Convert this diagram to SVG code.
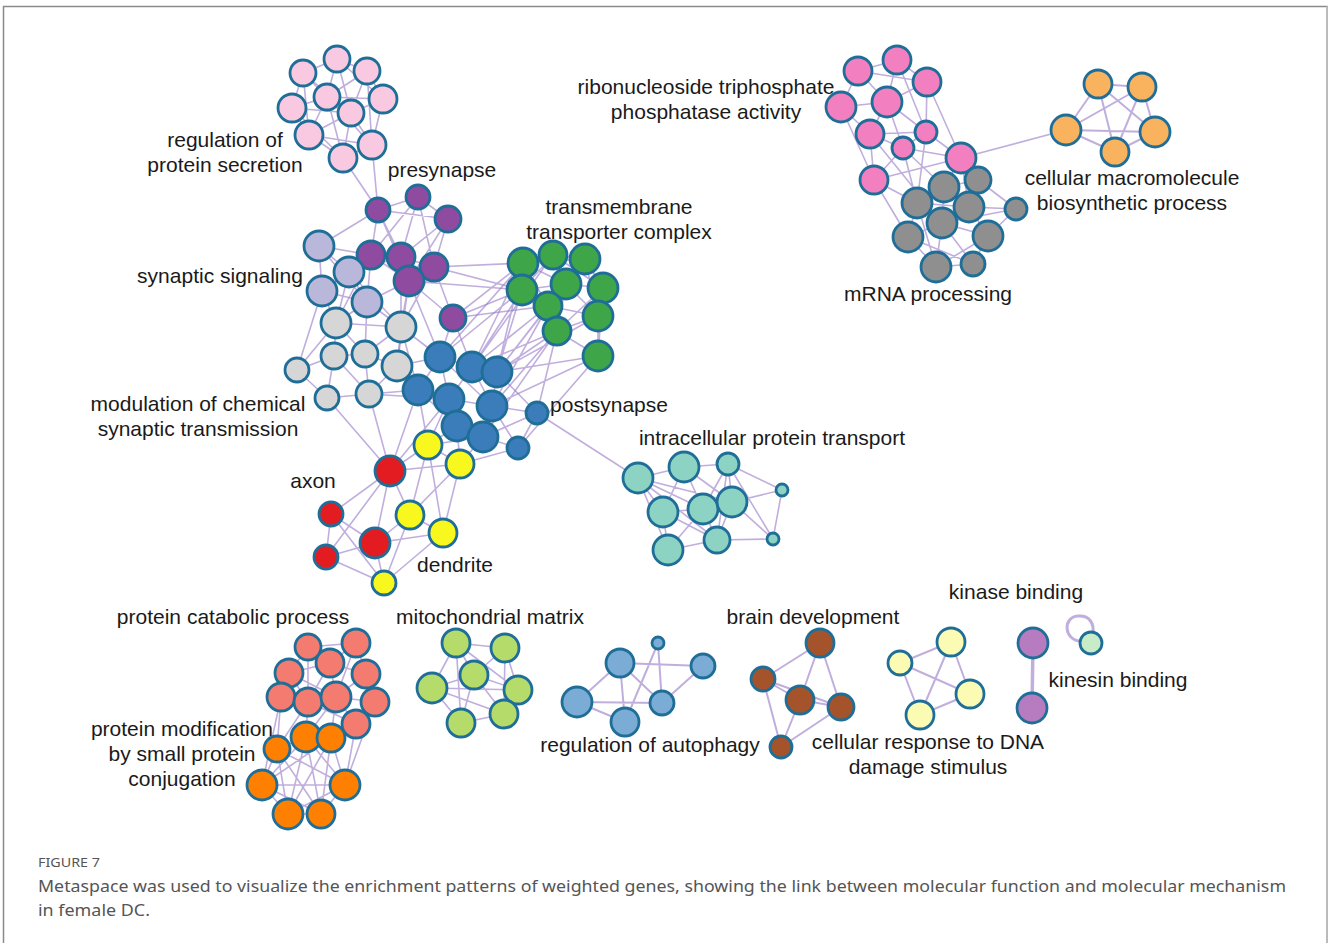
<svg xmlns="http://www.w3.org/2000/svg" width="1329" height="943" viewBox="0 0 1329 943">
<style>
circle{stroke:#1f6e98;stroke-width:2.8}
.e{fill:none;stroke:#9a7cc8;stroke-width:1.6;stroke-opacity:0.62}
.lbl{font-family:"Liberation Sans",Arial,sans-serif;font-size:21px;fill:#1a1a1a;text-anchor:middle}
.A{fill:#f8c9e0}.B{fill:#8e4b9f}.C{fill:#b9b8db}.D{fill:#d6d6d6}.E{fill:#3ea648}.F{fill:#3b7dbb}
.G{fill:#f8f81e}.H{fill:#e31c22}.I{fill:#8dd3c3}.J{fill:#f27fbf}.K{fill:#8f8f8f}.L{fill:#f9b25e}
.M{fill:#f47b70}.N{fill:#ff8000}.O{fill:#b5dc6b}.P{fill:#7aacd6}.Q{fill:#a4532b}.R{fill:#fbfbb4}
.S{fill:#b77cc0}.T{fill:#c8ecc8}
.cap{font-family:"Noto Sans","Open Sans",sans-serif;fill:#555}
</style>
<rect width="1329" height="943" fill="#fff"/>
<path d="M3.5 943V6.5H1327V943" fill="none" stroke="#8a8a8a" stroke-width="1.5"/>
<line x1="1327" y1="6.5" x2="1327" y2="943" stroke="#bbb" stroke-width="2"/>
<g id="connectors">
<path class="e" d="M337 59L303 73M337 59L367 71M337 59L327 97M337 59L351 113M337 59L383 99M303 73L327 97M303 73L292 108M303 73L351 113M367 71L327 97M367 71L383 99M367 71L351 113M327 97L292 108M327 97L351 113M327 97L309 135M327 97L383 99M327 97L343 158M383 99L351 113M383 99L372 145M292 108L309 135M292 108L351 113M351 113L309 135M351 113L372 145M351 113L343 158M309 135L343 158M309 135L372 145M372 145L343 158M303 73L309 135M367 71L372 145M292 108L343 158M327 97L372 145M343 158L378 210M372 145L378 210"/>
<path class="e" d="M378 210L418 197M378 210L448 219M418 197L448 219M378 210L371 255M378 210L401 257M418 197L401 257M418 197L434 267M448 219L434 267M448 219L401 257M371 255L401 257M401 257L434 267M401 257L409 281M371 255L409 281M434 267L409 281M448 219L409 281M418 197L371 255M409 281L453 318M434 267L453 318M378 210L409 281M371 255L319 246M371 255L349 272M378 210L319 246M401 257L349 272M409 281L367 302M371 255L367 302M371 255L336 323M409 281L401 327M401 257L401 327M434 267L401 327M409 281L397 366M434 267L523 263M453 318L522 290M453 318L523 263M409 281L522 290M453 318L548 306M434 267L522 290M453 318L440 357M453 318L472 367M409 281L440 357"/>
<path class="e" d="M319 246L349 272M319 246L322 291M349 272L322 291M349 272L367 302M322 291L367 302M319 246L367 302M322 291L336 323M367 302L336 323M367 302L401 327M349 272L336 323M367 302L365 354M322 291L297 370M349 272L401 327M336 323L334 356M336 323L365 354M334 356L365 354M365 354L397 366M401 327L397 366M334 356L297 370M297 370L327 398M334 356L327 398M327 398L369 394M365 354L369 394M397 366L369 394M334 356L369 394M336 323L401 327M401 327L365 354M297 370L336 323M397 366L418 390M397 366L440 357M401 327L440 357M369 394L418 390M401 327L418 390M369 394L449 399"/>
<path class="e" d="M523 263L553 255M553 255L585 259M523 263L522 290M523 263L566 284M553 255L566 284M585 259L566 284M585 259L603 288M522 290L566 284M522 290L548 306M566 284L548 306M566 284L603 288M603 288L598 316M566 284L598 316M548 306L557 331M548 306L598 316M598 316L557 331M598 316L598 356M557 331L598 356M603 288L598 356M522 290L557 331M523 263L548 306M553 255L522 290M585 259L598 316M553 255L603 288M566 284L557 331M523 263L585 259M603 288L557 331"/>
<path class="e" d="M472 367L522 290M497 372L522 290M497 372L548 306M497 372L557 331M472 367L523 263M497 372L598 356M492 406L557 331M492 406L598 356M440 357L522 290M497 372L523 263M472 367L548 306M492 406L548 306M497 372L598 316M537 413L557 331M518 448L598 356M483 437L557 331M497 372L566 284M472 367L557 331M497 372L585 259M472 367L553 255M440 357L523 263"/>
<path class="e" d="M440 357L472 367M472 367L497 372M440 357L418 390M440 357L449 399M472 367L449 399M472 367L492 406M497 372L492 406M418 390L449 399M449 399L492 406M449 399L457 426M492 406L483 437M457 426L483 437M492 406L537 413M483 437L518 448M492 406L518 448M457 426L418 390M449 399L483 437M497 372L537 413M537 413L518 448M440 357L492 406M537 413L483 437M457 426L428 445M483 437L460 464M449 399L428 445M483 437L428 445M518 448L460 464M418 390L428 445M457 426L460 464M418 390L390 471M449 399L390 471M537 413L638 478"/>
<path class="e" d="M428 445L460 464M428 445L410 515M460 464L443 533M410 515L443 533M460 464L410 515M410 515L384 583M443 533L384 583M428 445L443 533M390 471L428 445M390 471L460 464M390 471L410 515M375 543L410 515M375 543L443 533M375 543L384 583M326 557L384 583M331 514L384 583M390 471L331 514M390 471L375 543M331 514L375 543M331 514L326 557M375 543L326 557M390 471L326 557M390 471L369 394M390 471L327 398"/>
<path class="e" d="M638 478L684 467M684 467L728 464M638 478L663 512M638 478L703 509M684 467L703 509M684 467L732 502M684 467L663 512M728 464L732 502M728 464L703 509M728 464L782 490M782 490L732 502M782 490L773 539M663 512L703 509M663 512L668 550M703 509L732 502M703 509L717 540M732 502L717 540M668 550L717 540M663 512L717 540M703 509L668 550M732 502L773 539M717 540L773 539M728 464L717 540M638 478L717 540M638 478L668 550M728 464L773 539M684 467L717 540M638 478L732 502"/>
<path class="e" d="M858 71L897 60M897 60L927 82M858 71L841 107M858 71L887 102M897 60L887 102M927 82L887 102M841 107L887 102M841 107L870 134M887 102L870 134M887 102L926 132M887 102L903 148M927 82L926 132M870 134L903 148M926 132L903 148M926 132L961 158M903 148L961 158M870 134L874 180M903 148L874 180M874 180L961 158M927 82L961 158M870 134L926 132M858 71L927 82M897 60L926 132M841 107L874 180M874 180L908 237M903 148L944 187M961 158L944 187M961 158L978 180M926 132L917 203M874 180L917 203M961 158L969 207M903 148L917 203M870 134L942 223M961 158L1066 130"/>
<path class="e" d="M944 187L978 180M944 187L917 203M944 187L969 207M978 180L969 207M917 203L942 223M969 207L942 223M944 187L942 223M917 203L908 237M942 223L908 237M942 223L988 236M969 207L988 236M969 207L1016 209M978 180L1016 209M1016 209L988 236M908 237L936 267M942 223L936 267M936 267L973 264M988 236L973 264M942 223L973 264M917 203L969 207M908 237L973 264M988 236L936 267M1016 209L942 223M917 203L936 267"/>
<path class="e" d="M1098 84L1142 87M1098 84L1066 130M1142 87L1155 132M1066 130L1155 132M1066 130L1115 152M1155 132L1115 152M1098 84L1115 152M1142 87L1066 130M1098 84L1155 132M1142 87L1115 152" style="stroke-width:2"/>
<path class="e" d="M308 647L356 643M308 647L330 663M308 647L289 673M356 643L330 663M356 643L366 674M330 663L289 673M330 663L366 674M330 663L336 697M330 663L308 702M289 673L281 697M289 673L308 702M366 674L375 702M366 674L336 697M281 697L308 702M308 702L336 697M336 697L375 702M336 697L356 724M375 702L356 724M308 702L356 724M308 647L308 702M356 643L336 697M289 673L336 697M281 697L336 697M356 643L375 702M281 697L277 749M308 702L306 737M336 697L331 738M356 724L331 738M308 702L277 749M356 724L345 785M375 702L345 785M281 697L262 785M336 697L306 737"/>
<path class="e" d="M306 737L331 738M306 737L277 749M277 749L262 785M262 785L288 814M288 814L321 814M321 814L345 785M345 785L331 738M306 737L262 785M306 737L288 814M306 737L321 814M306 737L345 785M331 738L262 785M331 738L288 814M331 738L321 814M277 749L345 785M277 749L288 814M277 749L321 814M262 785L345 785M262 785L321 814M345 785L288 814"/>
<path class="e" d="M456 643L505 648M456 643L474 675M456 643L432 688M505 648L474 675M505 648L518 690M474 675L432 688M474 675L518 690M474 675L504 714M474 675L461 723M432 688L461 723M518 690L504 714M504 714L461 723M432 688L504 714M456 643L518 690M505 648L504 714M456 643L461 723M432 688L518 690"/>
<path class="e" d="M620 663L703 666M620 663L577 702M620 663L625 722M620 663L662 703M577 702L662 703M577 702L625 722M658 643L625 722M658 643L662 703M703 666L662 703" style="stroke-width:2"/>
<path class="e" d="M820 643L763 679M820 643L800 700M820 643L841 707M763 679L800 700M763 679L841 707M763 679L781 747M800 700L781 747M841 707L781 747M800 700L841 707" style="stroke-width:2"/>
<path class="e" d="M900 663L951 642M900 663L970 694M951 642L920 715M970 694L920 715M900 663L920 715M951 642L970 694" style="stroke-width:2"/>
<path class="e" d="M1033 643L1032 708" style="stroke-width:3.5"/>
<path class="e" d="M1081 641C1064 641 1062 617 1078 616C1090 615 1094 624 1093 633" style="stroke-width:3"/>
</g>
<g id="nodes">
<g id="A1" class="A"><circle cx="337" cy="59" r="13"/></g>
<g id="A2" class="A"><circle cx="303" cy="73" r="13"/></g>
<g id="A3" class="A"><circle cx="367" cy="71" r="13"/></g>
<g id="A4" class="A"><circle cx="327" cy="97" r="13"/></g>
<g id="A5" class="A"><circle cx="383" cy="99" r="14"/></g>
<g id="A6" class="A"><circle cx="292" cy="108" r="14"/></g>
<g id="A7" class="A"><circle cx="351" cy="113" r="13"/></g>
<g id="A8" class="A"><circle cx="309" cy="135" r="14"/></g>
<g id="A9" class="A"><circle cx="372" cy="145" r="14"/></g>
<g id="A10" class="A"><circle cx="343" cy="158" r="14"/></g>
<g id="B1" class="B"><circle cx="378" cy="210" r="12"/></g>
<g id="B2" class="B"><circle cx="418" cy="197" r="12"/></g>
<g id="B3" class="B"><circle cx="448" cy="219" r="13"/></g>
<g id="B4" class="B"><circle cx="371" cy="255" r="14"/></g>
<g id="B5" class="B"><circle cx="401" cy="257" r="14"/></g>
<g id="B6" class="B"><circle cx="434" cy="267" r="14"/></g>
<g id="B7" class="B"><circle cx="409" cy="281" r="15"/></g>
<g id="B8" class="B"><circle cx="453" cy="318" r="13"/></g>
<g id="C1" class="C"><circle cx="319" cy="246" r="15"/></g>
<g id="C2" class="C"><circle cx="349" cy="272" r="15"/></g>
<g id="C3" class="C"><circle cx="322" cy="291" r="15"/></g>
<g id="C4" class="C"><circle cx="367" cy="302" r="15"/></g>
<g id="D1" class="D"><circle cx="336" cy="323" r="15"/></g>
<g id="D2" class="D"><circle cx="401" cy="327" r="15"/></g>
<g id="D3" class="D"><circle cx="334" cy="356" r="13"/></g>
<g id="D4" class="D"><circle cx="365" cy="354" r="13"/></g>
<g id="D5" class="D"><circle cx="397" cy="366" r="15"/></g>
<g id="D6" class="D"><circle cx="297" cy="370" r="12"/></g>
<g id="D7" class="D"><circle cx="327" cy="398" r="12"/></g>
<g id="D8" class="D"><circle cx="369" cy="394" r="13"/></g>
<g id="E1" class="E"><circle cx="523" cy="263" r="15"/></g>
<g id="E2" class="E"><circle cx="553" cy="255" r="14"/></g>
<g id="E3" class="E"><circle cx="585" cy="259" r="15"/></g>
<g id="E4" class="E"><circle cx="522" cy="290" r="15"/></g>
<g id="E5" class="E"><circle cx="566" cy="284" r="15"/></g>
<g id="E6" class="E"><circle cx="603" cy="288" r="15"/></g>
<g id="E7" class="E"><circle cx="548" cy="306" r="14"/></g>
<g id="E8" class="E"><circle cx="598" cy="316" r="15"/></g>
<g id="E9" class="E"><circle cx="557" cy="331" r="14"/></g>
<g id="E10" class="E"><circle cx="598" cy="356" r="15"/></g>
<g id="F1" class="F"><circle cx="440" cy="357" r="15"/></g>
<g id="F2" class="F"><circle cx="472" cy="367" r="15"/></g>
<g id="F3" class="F"><circle cx="497" cy="372" r="15"/></g>
<g id="F4" class="F"><circle cx="418" cy="390" r="15"/></g>
<g id="F5" class="F"><circle cx="449" cy="399" r="15"/></g>
<g id="F6" class="F"><circle cx="492" cy="406" r="15"/></g>
<g id="F7" class="F"><circle cx="537" cy="413" r="11"/></g>
<g id="F8" class="F"><circle cx="457" cy="426" r="15"/></g>
<g id="F9" class="F"><circle cx="483" cy="437" r="15"/></g>
<g id="F10" class="F"><circle cx="518" cy="448" r="11"/></g>
<g id="G1" class="G"><circle cx="428" cy="445" r="14"/></g>
<g id="G2" class="G"><circle cx="460" cy="464" r="14"/></g>
<g id="G3" class="G"><circle cx="410" cy="515" r="14"/></g>
<g id="G4" class="G"><circle cx="443" cy="533" r="14"/></g>
<g id="G5" class="G"><circle cx="384" cy="583" r="12"/></g>
<g id="H1" class="H"><circle cx="390" cy="471" r="15"/></g>
<g id="H2" class="H"><circle cx="331" cy="514" r="12"/></g>
<g id="H3" class="H"><circle cx="375" cy="543" r="15"/></g>
<g id="H4" class="H"><circle cx="326" cy="557" r="12"/></g>
<g id="I1" class="I"><circle cx="638" cy="478" r="15"/></g>
<g id="I2" class="I"><circle cx="684" cy="467" r="15"/></g>
<g id="I3" class="I"><circle cx="728" cy="464" r="11"/></g>
<g id="I4" class="I"><circle cx="782" cy="490" r="6"/></g>
<g id="I5" class="I"><circle cx="663" cy="512" r="15"/></g>
<g id="I6" class="I"><circle cx="703" cy="509" r="15"/></g>
<g id="I7" class="I"><circle cx="732" cy="502" r="15"/></g>
<g id="I8" class="I"><circle cx="668" cy="550" r="15"/></g>
<g id="I9" class="I"><circle cx="717" cy="540" r="13"/></g>
<g id="I10" class="I"><circle cx="773" cy="539" r="6"/></g>
<g id="J1" class="J"><circle cx="858" cy="71" r="14"/></g>
<g id="J2" class="J"><circle cx="897" cy="60" r="14"/></g>
<g id="J3" class="J"><circle cx="927" cy="82" r="14"/></g>
<g id="J4" class="J"><circle cx="841" cy="107" r="15"/></g>
<g id="J5" class="J"><circle cx="887" cy="102" r="15"/></g>
<g id="J6" class="J"><circle cx="870" cy="134" r="14"/></g>
<g id="J7" class="J"><circle cx="926" cy="132" r="11"/></g>
<g id="J8" class="J"><circle cx="903" cy="148" r="11"/></g>
<g id="J9" class="J"><circle cx="961" cy="158" r="15"/></g>
<g id="J10" class="J"><circle cx="874" cy="180" r="14"/></g>
<g id="K1" class="K"><circle cx="944" cy="187" r="15"/></g>
<g id="K2" class="K"><circle cx="978" cy="180" r="13"/></g>
<g id="K3" class="K"><circle cx="917" cy="203" r="15"/></g>
<g id="K4" class="K"><circle cx="969" cy="207" r="15"/></g>
<g id="K5" class="K"><circle cx="942" cy="223" r="15"/></g>
<g id="K6" class="K"><circle cx="1016" cy="209" r="11"/></g>
<g id="K7" class="K"><circle cx="908" cy="237" r="15"/></g>
<g id="K8" class="K"><circle cx="988" cy="236" r="15"/></g>
<g id="K9" class="K"><circle cx="936" cy="267" r="15"/></g>
<g id="K10" class="K"><circle cx="973" cy="264" r="12"/></g>
<g id="L1" class="L"><circle cx="1098" cy="84" r="14"/></g>
<g id="L2" class="L"><circle cx="1142" cy="87" r="14"/></g>
<g id="L3" class="L"><circle cx="1066" cy="130" r="15"/></g>
<g id="L4" class="L"><circle cx="1155" cy="132" r="15"/></g>
<g id="L5" class="L"><circle cx="1115" cy="152" r="14"/></g>
<g id="M1" class="M"><circle cx="308" cy="647" r="13"/></g>
<g id="M2" class="M"><circle cx="356" cy="643" r="14"/></g>
<g id="M3" class="M"><circle cx="330" cy="663" r="14"/></g>
<g id="M4" class="M"><circle cx="289" cy="673" r="14"/></g>
<g id="M5" class="M"><circle cx="366" cy="674" r="14"/></g>
<g id="M6" class="M"><circle cx="281" cy="697" r="14"/></g>
<g id="M7" class="M"><circle cx="308" cy="702" r="14"/></g>
<g id="M8" class="M"><circle cx="336" cy="697" r="15"/></g>
<g id="M9" class="M"><circle cx="375" cy="702" r="14"/></g>
<g id="M10" class="M"><circle cx="356" cy="724" r="14"/></g>
<g id="N1" class="N"><circle cx="306" cy="737" r="15"/></g>
<g id="N2" class="N"><circle cx="331" cy="738" r="14"/></g>
<g id="N3" class="N"><circle cx="277" cy="749" r="13"/></g>
<g id="N4" class="N"><circle cx="262" cy="785" r="15"/></g>
<g id="N5" class="N"><circle cx="345" cy="785" r="15"/></g>
<g id="N6" class="N"><circle cx="288" cy="814" r="15"/></g>
<g id="N7" class="N"><circle cx="321" cy="814" r="14"/></g>
<g id="O1" class="O"><circle cx="456" cy="643" r="14"/></g>
<g id="O2" class="O"><circle cx="505" cy="648" r="14"/></g>
<g id="O3" class="O"><circle cx="474" cy="675" r="14"/></g>
<g id="O4" class="O"><circle cx="432" cy="688" r="15"/></g>
<g id="O5" class="O"><circle cx="518" cy="690" r="14"/></g>
<g id="O6" class="O"><circle cx="504" cy="714" r="14"/></g>
<g id="O7" class="O"><circle cx="461" cy="723" r="14"/></g>
<g id="P1" class="P"><circle cx="658" cy="643" r="6"/></g>
<g id="P2" class="P"><circle cx="620" cy="663" r="14"/></g>
<g id="P3" class="P"><circle cx="703" cy="666" r="12"/></g>
<g id="P4" class="P"><circle cx="577" cy="702" r="15"/></g>
<g id="P5" class="P"><circle cx="662" cy="703" r="12"/></g>
<g id="P6" class="P"><circle cx="625" cy="722" r="14"/></g>
<g id="Q1" class="Q"><circle cx="820" cy="643" r="14"/></g>
<g id="Q2" class="Q"><circle cx="763" cy="679" r="12"/></g>
<g id="Q3" class="Q"><circle cx="800" cy="700" r="14"/></g>
<g id="Q4" class="Q"><circle cx="841" cy="707" r="13"/></g>
<g id="Q5" class="Q"><circle cx="781" cy="747" r="11"/></g>
<g id="R1" class="R"><circle cx="900" cy="663" r="12"/></g>
<g id="R2" class="R"><circle cx="951" cy="642" r="14"/></g>
<g id="R3" class="R"><circle cx="970" cy="694" r="14"/></g>
<g id="R4" class="R"><circle cx="920" cy="715" r="14"/></g>
<g id="S1" class="S"><circle cx="1033" cy="643" r="15"/></g>
<g id="S2" class="S"><circle cx="1032" cy="708" r="15"/></g>
<g id="T1" class="T"><circle cx="1091" cy="643" r="11"/></g>
</g>
<g id="labels">
<text class="lbl" x="225" y="147">regulation of</text>
<text class="lbl" x="225" y="172">protein secretion</text>
<text class="lbl" x="442" y="177">presynapse</text>
<text class="lbl" x="619" y="214">transmembrane</text>
<text class="lbl" x="619" y="239">transporter complex</text>
<text class="lbl" x="220" y="283">synaptic signaling</text>
<text class="lbl" x="198" y="411">modulation of chemical</text>
<text class="lbl" x="198" y="436">synaptic transmission</text>
<text class="lbl" x="609" y="412">postsynapse</text>
<text class="lbl" x="772" y="445">intracellular protein transport</text>
<text class="lbl" x="313" y="488">axon</text>
<text class="lbl" x="455" y="572">dendrite</text>
<text class="lbl" x="706" y="94">ribonucleoside triphosphate</text>
<text class="lbl" x="706" y="119">phosphatase activity</text>
<text class="lbl" x="1132" y="185">cellular macromolecule</text>
<text class="lbl" x="1132" y="210">biosynthetic process</text>
<text class="lbl" x="928" y="301">mRNA processing</text>
<text class="lbl" x="233" y="624">protein catabolic process</text>
<text class="lbl" x="490" y="624">mitochondrial matrix</text>
<text class="lbl" x="813" y="624">brain development</text>
<text class="lbl" x="1016" y="599">kinase binding</text>
<text class="lbl" x="1118" y="687">kinesin binding</text>
<text class="lbl" x="182" y="736">protein modification</text>
<text class="lbl" x="182" y="761">by small protein</text>
<text class="lbl" x="182" y="786">conjugation</text>
<text class="lbl" x="650" y="752">regulation of autophagy</text>
<text class="lbl" x="928" y="749">cellular response to DNA</text>
<text class="lbl" x="928" y="774">damage stimulus</text>
</g>
<g id="caption">
<text class="cap" x="38" y="867" font-size="13" fill="#6b6b6b" textLength="62" lengthAdjust="spacingAndGlyphs">FIGURE 7</text>
<text class="cap" x="38" y="892" font-size="17" textLength="1248" lengthAdjust="spacingAndGlyphs">Metaspace was used to visualize the enrichment patterns of weighted genes, showing the link between molecular function and molecular mechanism</text>
<text class="cap" x="38" y="916" font-size="17" textLength="112" lengthAdjust="spacingAndGlyphs">in female DC.</text>
</g>
</svg>
